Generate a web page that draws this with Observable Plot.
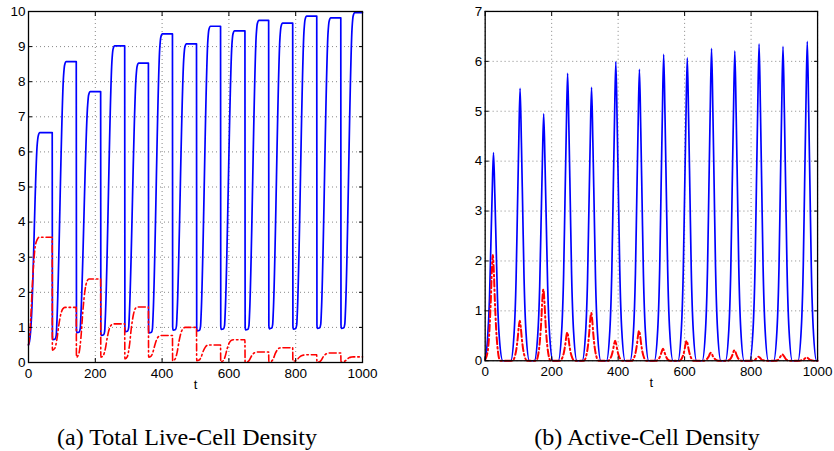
<!DOCTYPE html>
<html><head><meta charset="utf-8">
<script src="https://cdn.jsdelivr.net/npm/d3@7"></script>
<script src="https://cdn.jsdelivr.net/npm/@observablehq/plot@0.6"></script>
<style>
body{margin:0;background:#fff;}
#wrap{position:relative;width:834px;height:451px;overflow:hidden;background:#fff;}
#a,#b{position:absolute;top:0;}
#a{left:0px;} #b{left:417px;}
.cap{position:absolute;top:424px;font-family:"Liberation Serif","Times New Roman",serif;font-size:24px;color:#000;white-space:nowrap;text-align:center;width:400px;}
</style></head>
<body>
<div id="wrap">
  <div id="a"></div>
  <div id="b"></div>
  <div class="cap" id="capA" style="left:-13px;"></div>
  <div class="cap" id="capB" style="left:447px;"></div>
</div>
<script>
// ---- tick labels ----
const xTicks = [0, 200, 400, 600, 800, 1000];
const yTicksA = [0, 1, 2, 3, 4, 5, 6, 7, 8, 9, 10];
const yTicksB = [0, 1, 2, 3, 4, 5, 6, 7];
const xLabel = "t";
const captionA = "(a) Total Live-Cell Density";
const captionB = "(b) Active-Cell Density";

// ---- (a) total live-cell density, solid blue series [t, value] ----
const totalBlue = [
[0,0.5],[3,0.6],[6,0.85],[9,1.3],[26,6.2],[29,6.45],[34,6.55],[71,6.55],
[71.6,0.75],[73,0.65],[80,0.67],[83,0.77],[85,1.15],[105,8.17],[108,8.47],[113,8.57],[143,8.57],
[143.6,0.95],[145,0.85],[152,0.87],[155,0.97],[157,1.35],[177,7.32],[180,7.62],[185,7.72],[216,7.72],
[216.6,0.87],[218,0.77],[225,0.79],[228,0.89],[230,1.27],[250,8.62],[253,8.92],[258,9.02],[288,9.02],
[288.6,0.98],[290,0.88],[297,0.9],[300,1.0],[302,1.38],[322,8.13],[325,8.43],[330,8.53],[359,8.53],
[359.6,0.94],[361,0.84],[368,0.86],[371,0.96],[373,1.34],[393,8.96],[396,9.26],[401,9.36],[431,9.36],
[431.6,1.02],[433,0.92],[440,0.94],[443,1.04],[445,1.42],[465,8.68],[468,8.98],[473,9.08],[503,9.08],
[503.6,1.0],[505,0.9],[512,0.92],[515,1.02],[517,1.4],[537,9.18],[540,9.48],[545,9.58],[575,9.58],
[575.6,1.04],[577,0.94],[584,0.96],[587,1.06],[589,1.44],[609,9.05],[612,9.35],[617,9.45],[648,9.45],
[648.6,1.03],[650,0.93],[657,0.95],[660,1.05],[662,1.43],[682,9.35],[685,9.65],[690,9.75],[719,9.75],
[719.6,1.06],[721,0.96],[728,0.98],[731,1.08],[733,1.46],[753,9.27],[756,9.57],[761,9.67],[791,9.67],
[791.6,1.05],[793,0.95],[800,0.97],[803,1.07],[805,1.45],[825,9.47],[828,9.77],[833,9.87],[863,9.87],
[863.6,1.07],[865,0.97],[872,0.99],[875,1.09],[877,1.47],[897,9.42],[900,9.72],[905,9.82],[935,9.82],
[935.6,1.07],[937,0.97],[944,0.99],[947,1.09],[949,1.47],[969,9.57],[972,9.87],[977,9.97],[1000,9.97]
];

// ---- (a) total live-cell density, dash-dot red series [t, value] ----
const totalRed = [
[0,0.5],[4,0.8],[8,1.5],[12,2.3],[16,2.9],[20,3.3],[26,3.5],[32,3.57],[71,3.57],
[71.5,0.35],[79,0.41],[85,0.66],[91,1.08],[97,1.39],[103,1.53],[109,1.57],[143,1.57],
[143.5,0.15],[151,0.26],[157,0.71],[163,1.49],[169,2.05],[175,2.31],[181,2.38],[216,2.38],
[216.5,0.15],[224,0.2],[230,0.39],[236,0.72],[242,0.96],[248,1.07],[254,1.1],[288,1.1],
[288.5,0.1],[296,0.17],[302,0.47],[308,0.99],[314,1.36],[320,1.54],[326,1.58],[359,1.58],
[359.5,0.15],[367,0.18],[373,0.31],[379,0.52],[385,0.68],[391,0.75],[397,0.77],[431,0.77],
[431.5,0.05],[439,0.1],[445,0.29],[451,0.62],[457,0.86],[463,0.97],[469,1.0],[503,1.0],
[503.5,0.05],[511,0.07],[517,0.16],[523,0.32],[529,0.43],[535,0.49],[541,0.5],[575,0.5],
[575.5,0.02],[583,0.05],[589,0.18],[595,0.4],[601,0.56],[607,0.63],[613,0.65],[648,0.65],
[648.5,0.01],[656,0.02],[662,0.08],[668,0.19],[674,0.26],[680,0.29],[686,0.3],[719,0.3],
[719.5,0.01],[727,0.03],[733,0.11],[739,0.26],[745,0.36],[751,0.41],[757,0.42],[791,0.42],
[791.5,0.04],[799,0.05],[805,0.09],[811,0.15],[817,0.19],[823,0.21],[829,0.22],[863,0.22],
[863.5,0.01],[871,0.02],[877,0.07],[883,0.17],[889,0.23],[895,0.26],[901,0.27],[935,0.27],
[935.5,0.01],[943,0.02],[949,0.05],[955,0.1],[961,0.14],[967,0.155],[973,0.16],[1000,0.16]
];

// ---- (b) active-cell density, solid blue series [t, value] ----
const activeBlue = [
[0,0.03],[7,0.42],[13,1.25],[17,2.29],[21,3.34],[25,4.17],[29,3.34],[33,2.29],[37,1.25],[43,0.42],[53,0],
[77,0],[87,0.55],[93,1.64],[97,3.0],[101,4.37],[105,5.46],[109,4.37],[113,3.0],[117,1.64],[123,0.55],[133,0],
[148,0],[158,0.5],[164,1.49],[168,2.72],[172,3.96],[176,4.95],[180,3.96],[184,2.72],[188,1.49],[194,0.5],[204,0],
[220,0],[230,0.58],[236,1.73],[240,3.17],[244,4.61],[248,5.76],[252,4.61],[256,3.17],[260,1.73],[266,0.58],[276,0],
[292,0],[302,0.55],[308,1.64],[312,3.01],[316,4.38],[320,5.48],[324,4.38],[328,3.01],[332,1.64],[338,0.55],[348,0],
[365,0],[375,0.6],[381,1.8],[385,3.29],[389,4.79],[393,5.99],[397,4.79],[401,3.29],[405,1.8],[411,0.6],[421,0],
[436,0],[446,0.58],[452,1.75],[456,3.21],[460,4.67],[464,5.84],[468,4.67],[472,3.21],[476,1.75],[482,0.58],[492,0],
[509,0],[519,0.61],[525,1.84],[529,3.38],[533,4.91],[537,6.14],[541,4.91],[545,3.38],[549,1.84],[555,0.61],[565,0],
[580,0],[590,0.61],[596,1.82],[600,3.34],[604,4.86],[608,6.07],[612,4.86],[616,3.34],[620,1.82],[626,0.61],[636,0],
[653,0],[663,0.63],[669,1.88],[673,3.44],[677,5.01],[681,6.26],[685,5.01],[689,3.44],[693,1.88],[699,0.63],[709,0],
[723,0],[733,0.62],[739,1.86],[743,3.42],[747,4.97],[751,6.21],[755,4.97],[759,3.42],[763,1.86],[769,0.62],[779,0],
[796,0],[806,0.64],[812,1.91],[816,3.49],[820,5.08],[824,6.35],[828,5.08],[832,3.49],[836,1.91],[842,0.64],[852,0],
[868,0],[878,0.63],[884,1.89],[888,3.47],[892,5.04],[896,6.30],[900,5.04],[904,3.47],[908,1.89],[914,0.63],[924,0],
[941,0],[951,0.64],[957,1.92],[961,3.52],[965,5.12],[969,6.40],[973,5.12],[977,3.52],[981,1.92],[987,0.64],[997,0],[1000,0]
];

// ---- (b) active-cell density, dash-dot red series [t, value] ----
const activeRed = [
[0,0.02],[8,0.21],[13,0.64],[17,1.23],[20,1.8],[23,2.12],[26,1.8],[29,1.23],[33,0.64],[38,0.21],[45,0],
[82,0],[89,0.08],[94,0.24],[98,0.46],[101,0.68],[104,0.8],[107,0.68],[110,0.46],[114,0.24],[119,0.08],[126,0],
[153,0],[160,0.14],[165,0.43],[169,0.83],[172,1.22],[175,1.43],[178,1.22],[181,0.83],[185,0.43],[190,0.14],[197,0],
[225,0],[232,0.06],[237,0.17],[241,0.33],[244,0.48],[247,0.57],[250,0.48],[253,0.33],[257,0.17],[262,0.06],[269,0],
[297,0],[304,0.1],[309,0.29],[313,0.56],[316,0.82],[319,0.96],[322,0.82],[325,0.56],[329,0.29],[334,0.1],[341,0],
[369,0],[376,0.04],[381,0.12],[385,0.23],[388,0.34],[391,0.4],[394,0.34],[397,0.23],[401,0.12],[406,0.04],[413,0],
[441,0],[448,0.06],[453,0.18],[457,0.35],[460,0.51],[463,0.6],[466,0.51],[469,0.35],[473,0.18],[478,0.06],[485,0],
[513,0],[520,0.02],[525,0.07],[529,0.14],[532,0.2],[535,0.24],[538,0.2],[541,0.14],[545,0.07],[550,0.02],[557,0],
[584,0],[591,0.04],[596,0.12],[600,0.23],[603,0.34],[606,0.4],[609,0.34],[612,0.23],[616,0.12],[621,0.04],[628,0],
[657,0],[664,0.02],[669,0.05],[673,0.09],[676,0.14],[679,0.16],[682,0.14],[685,0.09],[689,0.05],[694,0.02],[701,0],
[728,0],[735,0.02],[740,0.06],[744,0.12],[747,0.18],[750,0.21],[753,0.18],[756,0.12],[760,0.06],[765,0.02],[772,0],
[800,0],[807,0.01],[812,0.02],[816,0.05],[819,0.07],[822,0.08],[825,0.07],[828,0.05],[832,0.02],[837,0.01],[844,0],
[872,0],[879,0.01],[884,0.04],[888,0.08],[891,0.11],[894,0.13],[897,0.11],[900,0.08],[904,0.04],[909,0.01],[916,0],
[945,0],[952,0.01],[957,0.02],[961,0.04],[964,0.06],[967,0.07],[970,0.06],[973,0.04],[977,0.02],[982,0.01],[989,0],[1000,0]
];

const tx = d => d[0], vy = d => d[1];
const plain = d => String(d);

function panel(blue, red, yDomain, yTicks, ml, mr, redWidth) {
  const grid = {stroke: "#000", strokeOpacity: 0.6, strokeWidth: 0.8, strokeDasharray: "1,3"};
  return Plot.plot({
    width: ml + 334 + mr, height: 400,
    marginLeft: ml, marginRight: mr, marginTop: 11, marginBottom: 38,
    x: {domain: [0, 1000]},
    y: {domain: yDomain},
    style: {fontFamily: "'Liberation Sans', Arial, Helvetica, sans-serif", fontSize: "13.5px", color: "#000", background: "#fff", overflow: "visible"},
    marks: [
      Plot.gridX(xTicks, grid),
      Plot.gridY(yTicks, grid),
      Plot.line(blue, {x: tx, y: vy, stroke: "#0000ff", strokeWidth: 1.7, curve: "monotone-x"}),
      Plot.line(red, {x: tx, y: vy, stroke: "#ff0000", strokeWidth: redWidth, strokeDasharray: "7,3,1.5,3", curve: "monotone-x"}),
      Plot.axisX(xTicks, {anchor: "bottom", tickSize: -4, tickPadding: 10, tickFormat: plain, label: null}),
      Plot.axisX(xTicks, {anchor: "top", tickSize: -4, tickFormat: () => "", label: null}),
      Plot.axisY(yTicks, {anchor: "left", tickSize: -4, tickPadding: 7, tickFormat: plain, label: null}),
      Plot.axisY(yTicks, {anchor: "right", tickSize: -4, tickFormat: () => "", label: null}),
      Plot.frame({stroke: "#000", strokeWidth: 1.3}),
      Plot.text([xLabel], {frameAnchor: "bottom", dy: 26, fontSize: 13})
    ]
  });
}

document.getElementById("a").append(panel(totalBlue, totalRed, [0, 10], yTicksA, 28, 38, 1.6));
document.getElementById("b").append(panel(activeBlue, activeRed, [0, 7], yTicksB, 68, 17, 2));
document.getElementById("capA").textContent = captionA;
document.getElementById("capB").textContent = captionB;
</script>
</body></html>
